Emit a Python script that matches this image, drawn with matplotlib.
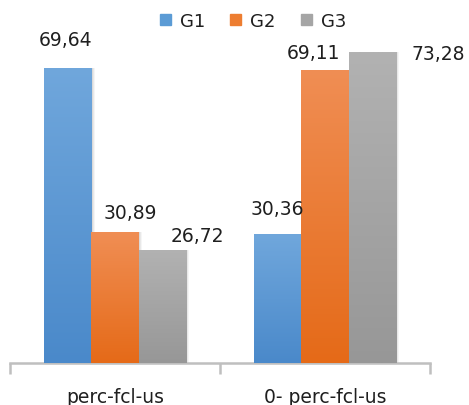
import numpy as np
import matplotlib.pyplot as plt
from matplotlib.patches import Patch
from matplotlib.colors import LinearSegmentedColormap

# data
categories = ["perc-fcl-us", "0- perc-fcl-us"]
series = ["G1", "G2", "G3"]
g1 = [69.64, 30.36]
g2 = [30.89, 69.11]
g3 = [26.72, 73.28]
values = [g1, g2, g3]

# style
base_colors = ["#5B9BD5", "#ED7D31", "#A5A5A5"]
grad_top = ["#70A7DC", "#F08E54", "#B2B2B2"]
grad_bot = ["#4A89CA", "#E56A18", "#979797"]
# label offsets (pixels) from the top-centre of each bar, per series, per category
label_offsets = [[(-2, 28), (-1, 26)],
                 [(15, 20), (-12, 17)],
                 [(35, 14), (66, -1)]]

fig = plt.figure(figsize=(4.69, 4.06), dpi=100)
ax = fig.add_axes([10 / 469, 42 / 406, 420 / 469, 344 / 406])

width = 0.224
x = np.arange(len(categories))
ymax = 344 / 4.24

for i, vals in enumerate(values):
    pos = x + (i - 1) * width
    bars = ax.bar(pos, vals, width, color=base_colors[i], zorder=3)
    cmap = LinearSegmentedColormap.from_list(f"g{i}", [grad_bot[i], grad_top[i]])
    for j, b in enumerate(bars):
        bx, by = b.get_x(), b.get_y()
        bw, bh = b.get_width(), b.get_height()
        # soft shadow
        for k, a in enumerate([0.06, 0.05, 0.04]):
            d = (k + 1) * 0.006
            ax.bar(bx + bw / 2 + d, bh + 0.3, bw, bottom=-0.3, color="black",
                   alpha=a, zorder=2, linewidth=0)
        grad = np.linspace(0, 1, 256).reshape(-1, 1)
        im = ax.imshow(grad, cmap=cmap, origin="lower", aspect="auto",
                       extent=[bx, bx + bw, by, by + bh], zorder=4)
        im.set_clip_path(b)
        dx, dy = label_offsets[i][j]
        ax.annotate(f"{vals[j]:.2f}".replace(".", ","), (bx + bw / 2, by + bh),
                    xytext=(dx, dy), textcoords="offset pixels",
                    ha="center", va="center", fontsize=13.5, color="#1F1F1F",
                    zorder=5, annotation_clip=False)

ax.set_xlim(-0.5, 1.5)
ax.set_ylim(0, ymax)
for s in ["top", "right", "left"]:
    ax.spines[s].set_visible(False)
ax.spines["bottom"].set_color("#BFBFBF")
ax.spines["bottom"].set_linewidth(1.8)
ax.set_yticks([])
ax.set_xticks([-0.5, 0.5, 1.5])
ax.set_xticklabels([])
ax.tick_params(axis="x", length=8, width=1.8, color="#BFBFBF")
ax.set_xticks(x, minor=True)
ax.set_xticklabels(categories, minor=True, fontsize=13.5, color="#1F1F1F")
ax.tick_params(axis="x", which="minor", length=0, pad=17)

handles = [Patch(color=c, label=s) for c, s in zip(base_colors, series)]
fig.legend(handles=handles, loc="center", bbox_to_anchor=(253 / 469, 1 - 22 / 406),
           ncol=3, frameon=False, fontsize=13, handlelength=0.6, handleheight=0.6,
           handletextpad=0.5, columnspacing=1.4, labelcolor="#1F1F1F")

fig.savefig("out.png", dpi=100)
